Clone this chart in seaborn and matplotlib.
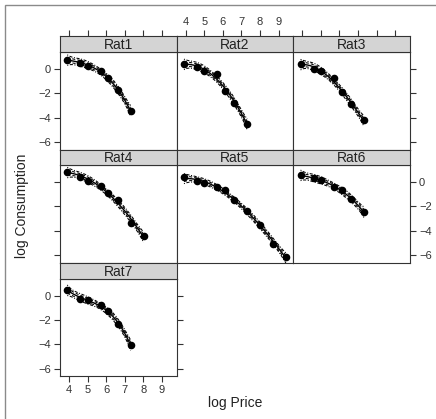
import numpy as np
import matplotlib
matplotlib.use("Agg")
import matplotlib.pyplot as plt
from matplotlib.patches import Rectangle
import seaborn as sns

sns.set_style("white")
plt.rcParams["font.family"] = ["Liberation Sans", "DejaVu Sans"]

# log price levels shared by all rats
log_price = [3.91, 4.61, 5.01, 5.70, 6.11, 6.62, 7.31, 8.01, 8.70, 9.39]

rat1 = [0.74, 0.52, 0.28, -0.19, -0.74, -1.75, -3.41]
rat2 = [0.43, 0.14, -0.17, -0.43, -1.80, -2.78, -4.49]
rat3 = [0.41, 0.03, -0.19, -0.74, -1.89, -2.87, -4.21]
rat4 = [0.82, 0.41, 0.08, -0.35, -0.88, -1.51, -3.37, -4.40]
rat5 = [0.35, 0.06, -0.12, -0.46, -0.71, -1.49, -2.43, -3.52, -5.09, -6.12]
rat6 = [0.52, 0.30, 0.14, -0.43, -0.68, -1.37, -2.49]
rat7 = [0.49, -0.28, -0.32, -0.80, -1.29, -2.32, -4.02]

rats = ["Rat1", "Rat2", "Rat3", "Rat4", "Rat5", "Rat6", "Rat7"]
consumption = [rat1, rat2, rat3, rat4, rat5, rat6, rat7]

x_ticks = [4, 5, 6, 7, 8, 9]
y_ticks = [0, -2, -4, -6]

W, H = 436, 419
fig = plt.figure(figsize=(W / 100, H / 100), dpi=100)


def px_axes(l, t, r, b):
    return fig.add_axes([l / W, 1 - b / H, (r - l) / W, (b - t) / H])


cols = [(60, 176.7), (176.7, 293.3), (293.3, 410)]
rows = [(36, 52.3, 149.5), (149.5, 165, 262.5), (262.5, 279, 376)]
xlim = (3.52, 9.79)
ylim = (-6.6, 1.37)
edge = "#333333"
DEG = 3

# cubic fits per rat, pooled residual variance for the bands
fits = []
ss, df = 0.0, 0
for y in consumption:
    x = np.array(log_price[:len(y)])
    X = np.vander(x, DEG + 1)
    coef, *_ = np.linalg.lstsq(X, np.array(y), rcond=None)
    res = np.array(y) - X @ coef
    ss += res @ res
    df += len(y) - DEG - 1
    fits.append((x, coef, np.linalg.inv(X.T @ X)))
s2 = ss / df

for i, (name, y) in enumerate(zip(rats, consumption)):
    r, c = divmod(i, 3)
    st, pt, pb = rows[r]
    cl, cr = cols[c]
    ax = px_axes(cl, pt, cr, pb)
    sx = px_axes(cl, st, cr, pt)

    x, coef, xtx_inv = fits[i]
    xs = np.linspace(x.min(), x.max(), 80)
    Xs = np.vander(xs, DEG + 1)
    fit = Xs @ coef
    se = np.sqrt(s2 * np.einsum("ij,jk,ik->i", Xs, xtx_inv, Xs))

    sns.lineplot(x=xs, y=fit, ax=ax, color="black", lw=1.0)
    for k, ls in [(1.3, (0, (3, 2))), (-1.3, (0, (3, 2))),
                  (2.3, (0, (1, 1.5, 3, 1.5))), (-2.3, (0, (1, 1.5, 3, 1.5)))]:
        sns.lineplot(x=xs, y=fit + k * se, ax=ax, color="black", lw=0.75,
                     linestyle=ls)
    sns.scatterplot(x=x, y=y, ax=ax, color="black", s=30, linewidth=0,
                    zorder=5)

    ax.set_xlim(xlim)
    ax.set_ylim(ylim)
    ax.set_xlabel("")
    ax.set_ylabel("")
    for sp in ax.spines.values():
        sp.set_color(edge)
        sp.set_linewidth(0.8)

    # strip
    sx.set_facecolor("#d4d4d4")
    sx.set_xlim(xlim)
    sx.set_yticks([])
    sx.set_xticks([])
    for sp in sx.spines.values():
        sp.set_color(edge)
        sp.set_linewidth(0.8)
    sx.text(0.5, 0.45, name, transform=sx.transAxes, ha="center",
            va="center", fontsize=10, color="#222222")

    ax.set_xticks([])
    ax.set_yticks(y_ticks)
    tick_kw = dict(direction="out", length=4.5, width=0.8, color=edge,
                   labelsize=8, labelcolor="#333333", pad=2)
    left = c == 0
    right = (c == 2) or (i == 6)
    ax.tick_params(axis="y", left=left, right=right,
                   labelleft=left and r in (0, 2),
                   labelright=(r == 1 and c == 2), **tick_kw)

    if r == 0:
        sx.set_xticks(x_ticks)
        sx.tick_params(axis="x", top=True, bottom=False, labeltop=(c == 1),
                       labelbottom=False, **tick_kw)
    if i == 6:
        ax.set_xticks(x_ticks)
        ax.tick_params(axis="x", bottom=True, labelbottom=True, **tick_kw)

fig.text(235 / W, 1 - 403 / H, "log Price", ha="center", va="center",
         fontsize=10, color="#222222")
fig.text(22 / W, 1 - 206 / H, "log Consumption", ha="center", va="center",
         rotation=90, fontsize=10, color="#222222")

fig.add_artist(Rectangle((5 / W, -0.1), 1.2, 1.1 - 5 / H,
                         transform=fig.transFigure, fill=False,
                         edgecolor="#8a8a8a", lw=1.0))

fig.savefig("out.png", dpi=100)
